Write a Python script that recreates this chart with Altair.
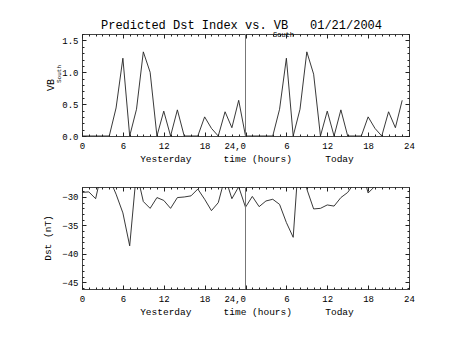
import altair as alt
import pandas as pd

# ---------------- data ----------------
hours = list(range(48))
vb_south = [0, 0, 0, 0, 0, 0.44, 1.22, 0, 0.42, 1.32, 1.0, 0, 0.39, 0, 0.41, 0,
            0, 0, 0.30, 0.12, 0, 0.38, 0.13, 0.56,
            0, 0, 0, 0, 0, 0.42, 1.22, 0, 0.42, 1.32, 0.97, 0, 0.39, 0, 0.41, 0,
            0, 0, 0.30, 0.12, 0, 0.38, 0.13, 0.56]
dst = [-29.2, -29.1, -30.3, -25.0, -26.7, -29.5, -32.8, -38.6, -25.5, -30.8, -32.0, -30.1,
       -30.6, -32.0, -30.1, -30.0, -29.8, -28.6, -30.4, -32.4, -31.0, -26.5, -30.3, -28.2,
       -31.8, -29.9, -31.7, -30.7, -30.4, -31.3, -34.5, -37.1, -20.0, -28.6, -32.1, -32.0,
       -31.4, -31.6, -30.1, -29.2, -27.5, -25.0, -29.3, -28.1, -27.0, -27.0, -27.0, -27.0]

x_major = [0, 6, 12, 18, 24, 30, 36, 42, 48]
x_minor = list(range(49))
vb_major = [0.0, 0.5, 1.0, 1.5]
vb_minor = [round(i * 0.1, 1) for i in range(17)]
dst_major = [-45, -40, -35, -30]
dst_minor = list(range(-46, -28))

title_main = "Predicted Dst Index vs. VB"
title_sub = "South"
title_date = "01/21/2004"
x_titles = ["Yesterday", "time (hours)", "Today"]
x_title_pos = [12.3, 25.8, 37.8]   # hours (centres of the three captions)

FONT = "Liberation Mono"
W, H = 327, 102
INK = "#222222"

df = pd.DataFrame({"hour": hours, "vb": vb_south, "dst": dst})
label_expr = ("datum.value == 24 ? '24,0' : "
              "(datum.value > 24 ? '' + (datum.value - 24) : '' + datum.value)")


def axis(orient, values, size, labels=False, **kw):
    return alt.Axis(orient=orient, values=values, tickSize=size, offset=-size,
                    domain=False, grid=False, labels=labels, title=None,
                    ticks=True, tickColor=INK, tickWidth=1,
                    labelFont=FONT, labelFontSize=9, labelColor="black", **kw)


def one_text(text, x, y, size, angle=0, align="left", baseline="alphabetic", opacity=1):
    return alt.Chart(alt.Data(values=[{}])).mark_text(
        text=text, font=FONT, fontSize=size, color="black", angle=angle,
        align=align, baseline=baseline, opacity=opacity
    ).encode(x=alt.value(x), y=alt.value(y))


def panel(field, domain, ymaj, ymin, yfmt, texts):
    xs = alt.Scale(domain=[0, 48], nice=False, zero=False)
    ys = alt.Scale(domain=domain, nice=False, zero=False)
    base = alt.Chart(df)
    layers = []
    main = base.mark_line(color=INK, strokeWidth=0.9, clip=True).encode(
        x=alt.X("hour:Q", scale=xs,
                axis=axis("bottom", x_major, 4, labels=True, labelExpr=label_expr,
                          labelPadding=5, labelFlush=False,
                          labelAlign={"condition": {"test": "datum.value == 24", "value": "right"},
                                      "value": "center"})),
        y=alt.Y(f"{field}:Q", scale=ys,
                axis=axis("left", ymaj, 4, labels=True, format=yfmt, labelPadding=4,
                          labelFlush=False)),
    )
    layers.append(main)
    ghost = base.mark_line(strokeOpacity=0)
    for orient, vals, size in [("top", x_major, 4), ("bottom", x_minor, 2), ("top", x_minor, 2)]:
        layers.append(ghost.encode(
            x=alt.X("hour:Q", scale=xs, axis=axis(orient, vals, size)),
            y=alt.Y(f"{field}:Q", scale=ys, axis=None)))
    for orient, vals, size in [("right", ymaj, 4), ("left", ymin, 2), ("right", ymin, 2)]:
        layers.append(ghost.encode(
            x=alt.X("hour:Q", scale=xs, axis=None),
            y=alt.Y(f"{field}:Q", scale=ys, axis=axis(orient, vals, size))))
    rule = alt.Chart(alt.Data(values=[{}])).mark_rule(color="#777777", strokeWidth=1).encode(
        x=alt.XDatum(datum=24, scale=xs, axis=None), y=alt.value(0), y2=alt.value(H))
    layers.append(rule)
    caps = alt.Chart(pd.DataFrame({"h": x_title_pos, "t": x_titles})).mark_text(
        font=FONT, fontSize=9.5, color="black", baseline="middle", align="center"
    ).encode(x=alt.X("h:Q", scale=xs, axis=None), y=alt.value(125), text="t:N")
    layers.append(caps)
    layers.extend(texts)
    return alt.layer(*layers).resolve_axis(x="independent", y="independent").properties(
        width=W, height=H)


top_texts = [
    one_text(".", -81, -33, 8, align="left", baseline="top", opacity=0),
    one_text(title_main, 19, -5, 12),
    one_text(title_sub, 191, 3, 7),
    one_text(title_date, 228, -5, 12),
    one_text("VB", -31, 51, 10, angle=270, align="center", baseline="middle"),
    one_text(title_sub, -23, 40, 6, angle=270, align="center", baseline="middle"),
]
bottom_texts = [
    one_text("Dst (nT)", -34, 51, 9.5, angle=270, align="center", baseline="middle"),
]

top = panel("vb", [0, 1.6], vb_major, vb_minor, ".1f", top_texts)
bottom = panel("dst", [-46.2, -28.24], dst_major, dst_minor, "d", bottom_texts)

chart = alt.vconcat(top, bottom, spacing=51, bounds="flush").properties(
    padding=0, background="white"
).configure_view(stroke="#444444", strokeWidth=1)

chart.save("out.html", embed_options={"renderer": "svg", "actions": False})
